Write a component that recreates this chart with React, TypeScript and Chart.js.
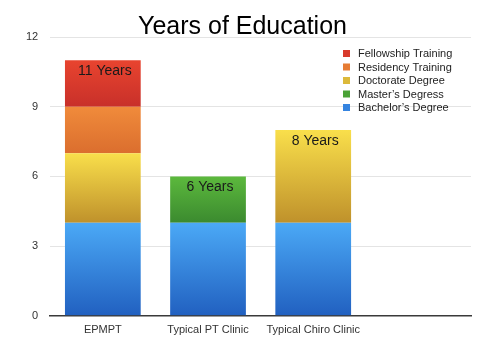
import React, { useEffect, useRef } from "react";
import { Chart, registerables } from "chart.js";

Chart.register(...registerables);

const categories = ["EPMPT", "Typical PT Clinic", "Typical Chiro Clinic", ""];
const seriesNames = [
  "Bachelor’s Degree",
  "Master’s Degress",
  "Doctorate Degree",
  "Residency Training",
  "Fellowship Training",
];
const bachelors = [4, 4, 4, 0];
const masters = [0, 2, 0, 0];
const doctorate = [3, 0, 4, 0];
const residency = [2, 0, 0, 0];
const fellowship = [2, 0, 0, 0];
const yTicks = [0, 3, 6, 9, 12];

const seriesData = [bachelors, masters, doctorate, residency, fellowship];
const topColors = ["#4ba9f6", "#5cb93d", "#f9df4b", "#f08b3b", "#e8442f"];
const bottomColors = ["#2160c0", "#3b8a2f", "#bf912b", "#db6e2e", "#c8302a"];
const legendColors = ["#3584e0", "#4aa236", "#dcb93a", "#e67c34", "#d83a2c"];

const FONT = "'Liberation Sans', Arial, Helvetica, sans-serif";

function makeBg(di: number) {
  return (ctx: any) => {
    const chart = ctx.chart;
    const area = chart.chartArea;
    const i = ctx.dataIndex;
    if (!area || i === undefined || !chart.scales.y) return legendColors[di];
    let base = 0;
    for (let k = 0; k < di; k++) base += seriesData[k][i] || 0;
    const top = base + (seriesData[di][i] || 0);
    const y0 = chart.scales.y.getPixelForValue(base);
    const y1 = chart.scales.y.getPixelForValue(top);
    if (!isFinite(y0) || !isFinite(y1) || y0 === y1) return legendColors[di];
    const g = chart.ctx.createLinearGradient(0, y1, 0, y0);
    g.addColorStop(0, topColors[di]);
    g.addColorStop(1, bottomColors[di]);
    return g;
  };
}

const overlayPlugin = {
  id: "overlay",
  afterDatasetsDraw(chart: any) {
    const { ctx, scales, chartArea } = chart;
    ctx.save();
    // totals
    ctx.font = `14px ${FONT}`;
    ctx.fillStyle = "#1a1a1a";
    ctx.textAlign = "center";
    ctx.textBaseline = "middle";
    categories.forEach((_c, i) => {
      const total = seriesData.reduce((s, arr) => s + (arr[i] || 0), 0);
      if (!total) return;
      const x = scales.x.getPixelForValue(i) + 2;
      const y = scales.y.getPixelForValue(total) + 11;
      ctx.fillText(`${total} Years`, x, y);
    });
    // legend
    ctx.font = `11px ${FONT}`;
    ctx.textAlign = "left";
    ctx.textBaseline = "middle";
    const lx = chartArea.right - 128;
    const ly = chartArea.top + 16.5;
    const order = [4, 3, 2, 1, 0];
    order.forEach((di, r) => {
      const y = ly + r * 13.5;
      ctx.fillStyle = legendColors[di];
      ctx.fillRect(lx, y - 3.5, 7, 7);
      ctx.fillStyle = "#222";
      ctx.fillText(seriesNames[di], lx + 15, y + 0.5);
    });
    ctx.restore();
  },
};

export default function App() {
  const ref = useRef<HTMLCanvasElement>(null);
  useEffect(() => {
    document.body.style.margin = "0";
    const canvas = ref.current!;
    const chart = new Chart(canvas, {
      type: "bar",
      data: {
        labels: categories,
        datasets: seriesData.map((d, di) => ({
          label: seriesNames[di],
          data: d,
          backgroundColor: makeBg(di),
          borderWidth: 0,
          categoryPercentage: 1,
          barPercentage: 0.72,
        })),
      },
      options: {
        responsive: false,
        animation: false,
        font: { family: FONT },
        layout: { padding: { left: 14, right: 29, bottom: 16, top: 0 } },
        plugins: {
          legend: { display: false },
          tooltip: { enabled: false },
          title: {
            display: true,
            text: "Years of Education",
            color: "#000",
            font: { family: FONT, size: 25, weight: "normal", lineHeight: 1 },
            padding: { top: 15, bottom: -3 },
          },
        },
        scales: {
          x: {
            stacked: true,
            grid: { display: false, drawTicks: false },
            border: { display: true, color: "#3a3a3a", width: 1.5 },
            ticks: { color: "#333", font: { family: FONT, size: 11 }, padding: 8, autoSkip: false, maxRotation: 0 },
          },
          y: {
            stacked: true,
            min: 0,
            max: 12,
            afterBuildTicks: (axis: any) => {
              axis.ticks = yTicks.map((v) => ({ value: v }));
            },
            grid: { color: "#e4e4e4", lineWidth: 1, drawTicks: false },
            border: { display: false },
            ticks: { color: "#333", font: { family: FONT, size: 11 }, padding: 12 },
          },
        },
      },
      plugins: [overlayPlugin],
    });
    return () => chart.destroy();
  }, []);
  return (
    <div style={{ width: 500, height: 361, background: "#fff" }}>
      <canvas ref={ref} width={500} height={361} style={{ display: "block" }} />
    </div>
  );
}
